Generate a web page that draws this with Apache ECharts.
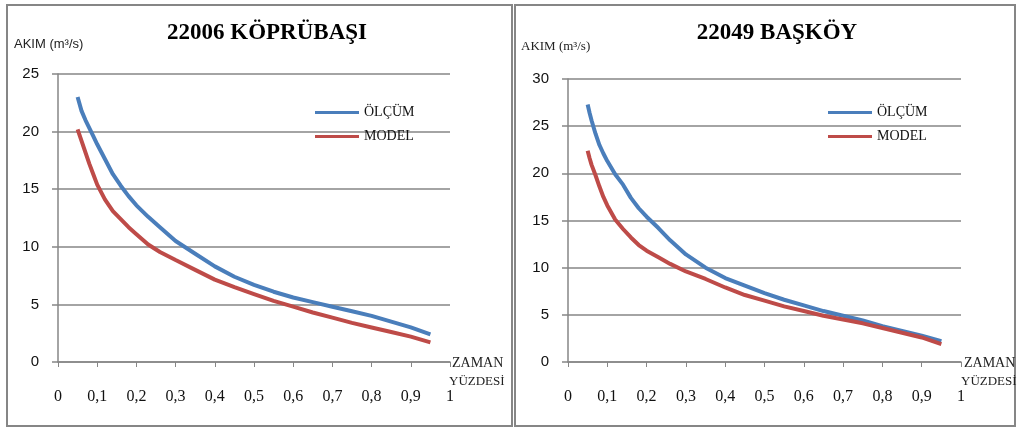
<!DOCTYPE html>
<html>
<head>
<meta charset="utf-8">
<script src="https://cdn.jsdelivr.net/npm/echarts@6/dist/echarts.min.js"></script>
<style>
html,body{margin:0;padding:0;background:#fff;}
#chart{width:1018px;height:428px;}
</style>
</head>
<body>
<div id="chart"></div>
<script>
// ---- data ----
const timeShare = [0.05,0.055,0.06,0.07,0.08,0.09,0.10,0.12,0.14,0.16,0.18,0.20,0.23,0.26,0.30,0.35,0.40,0.45,0.50,0.55,0.60,0.65,0.70,0.75,0.80,0.85,0.90,0.95];
const kopruMeasured = [23.0,23.0,21.8,21.0,20.3,19.6,18.9,17.6,16.3,15.3,14.4,13.6,12.6,11.7,10.5,9.4,8.3,7.4,6.7,6.1,5.6,5.2,4.8,4.4,4.0,3.5,3.0,2.4];
const kopruModel    = [20.2,19.7,19.2,18.2,17.2,16.3,15.4,14.1,13.1,12.4,11.7,11.1,10.2,9.55,8.85,8.0,7.15,6.5,5.9,5.3,4.8,4.3,3.85,3.4,3.0,2.6,2.2,1.7];
const baskoyMeasured = [27.3,26.4,25.6,24.2,23.0,22.1,21.3,19.9,18.8,17.4,16.3,15.4,14.2,12.9,11.4,10.0,8.9,8.1,7.3,6.6,6.0,5.4,4.9,4.4,3.8,3.3,2.8,2.2];
const baskoyModel    = [22.4,21.6,20.9,19.8,18.6,17.5,16.6,15.1,14.1,13.2,12.4,11.8,11.1,10.4,9.6,8.8,7.9,7.1,6.5,5.9,5.4,4.9,4.5,4.1,3.6,3.1,2.6,1.9];
const seriesNames = ['ÖLÇÜM','MODEL'];
const titles = ['22006 KÖPRÜBAŞI','22049 BAŞKÖY'];
const yMax = [25, 30];
const xTicks = {min:0, max:1, interval:0.1};

// ---- chart ----
const chart = echarts.init(document.getElementById('chart'), null, {renderer:'canvas'});
const pairs = (xs, ys) => xs.map((x,i)=>[x, ys[i]]);
const gray = '#868686';
const blue = '#4A7EBB';
const red = '#BE4B48';

function xAxisCfg(gi){
  return {
    type:'value', gridIndex:gi, min:xTicks.min, max:xTicks.max, interval:xTicks.interval,
    axisLine:{show:true, lineStyle:{color:gray, width:1.5}},
    axisTick:{show:true, length:5, lineStyle:{color:gray, width:1}},
    splitLine:{show:false},
    axisLabel:{margin:27, fontFamily:'Liberation Serif', fontSize:16, color:'#111',
      formatter:v=>String(Math.round(v*10)/10).replace('.', ',')}
  };
}
function yAxisCfg(gi, max){
  return {
    type:'value', gridIndex:gi, min:0, max:max, interval:5,
    axisLine:{show:true, lineStyle:{color:gray, width:1.5}},
    axisTick:{show:true, length:6, lineStyle:{color:gray, width:1.5}},
    splitLine:{show:true, lineStyle:{color:gray, width:1.5}},
    axisLabel:{margin:19, fontFamily:'Liberation Sans', fontSize:15, color:'#111'}
  };
}
function lineSeries(name, gi, data, color){
  return {
    name:name, type:'line', xAxisIndex:gi, yAxisIndex:gi, data:data,
    showSymbol:false, symbol:'none', lineStyle:{color:color, width:4}, itemStyle:{color:color},
    animation:false
  };
}

const option = {
  animation:false,
  title:[
    {text:titles[0], left:262, top:17, textAlign:'center',
      textStyle:{fontFamily:'Liberation Serif', fontWeight:'bold', fontSize:23, color:'#000'}},
    {text:titles[1], left:772, top:17, textAlign:'center',
      textStyle:{fontFamily:'Liberation Serif', fontWeight:'bold', fontSize:23, color:'#000'}}
  ],
  legend:[
    {data:seriesNames, orient:'vertical', left:310, top:100, itemWidth:44, itemHeight:3, itemGap:9, icon:'rect',
      textStyle:{fontFamily:'Liberation Serif', fontSize:14, color:'#111', lineHeight:15}},
    {data:seriesNames, orient:'vertical', left:823, top:100, itemWidth:44, itemHeight:3, itemGap:9, icon:'rect',
      textStyle:{fontFamily:'Liberation Serif', fontSize:14, color:'#111', lineHeight:15}}
  ],
  grid:[
    {left:58, top:74, width:392, height:288},
    {left:568, top:79, width:393, height:283}
  ],
  xAxis:[xAxisCfg(0), xAxisCfg(1)],
  yAxis:[yAxisCfg(0, yMax[0]), yAxisCfg(1, yMax[1])],
  series:[
    lineSeries(seriesNames[0], 0, pairs(timeShare, kopruMeasured), blue),
    lineSeries(seriesNames[1], 0, pairs(timeShare, kopruModel), red),
    lineSeries(seriesNames[0], 1, pairs(timeShare, baskoyMeasured), blue),
    lineSeries(seriesNames[1], 1, pairs(timeShare, baskoyModel), red)
  ],
  graphic:[
    {type:'rect', shape:{x:7, y:5, width:505, height:421}, style:{fill:null, stroke:gray, lineWidth:2}, silent:true},
    {type:'rect', shape:{x:515, y:5, width:500, height:421}, style:{fill:null, stroke:gray, lineWidth:2}, silent:true},
    {type:'text', left:14, top:38, style:{text:'AKIM (m³/s)', fontFamily:'Liberation Sans Narrow, Liberation Sans', fontSize:13, fill:'#222'}},
    {type:'text', left:521, top:40, style:{text:'AKIM (m³/s)', fontFamily:'Liberation Serif', fontSize:13, fill:'#222'}},
    {type:'text', left:452, top:356, style:{text:'ZAMAN', fontFamily:'Liberation Serif', fontSize:14, fill:'#222'}},
    {type:'text', left:449, top:375, style:{text:'YÜZDESİ', fontFamily:'Liberation Serif', fontSize:13, fill:'#222'}},
    {type:'text', left:964, top:356, style:{text:'ZAMAN', fontFamily:'Liberation Serif', fontSize:14, fill:'#222'}},
    {type:'text', left:961, top:375, style:{text:'YÜZDESİ', fontFamily:'Liberation Serif', fontSize:13, fill:'#222'}}
  ]
};
chart.setOption(option);
</script>
</body>
</html>
